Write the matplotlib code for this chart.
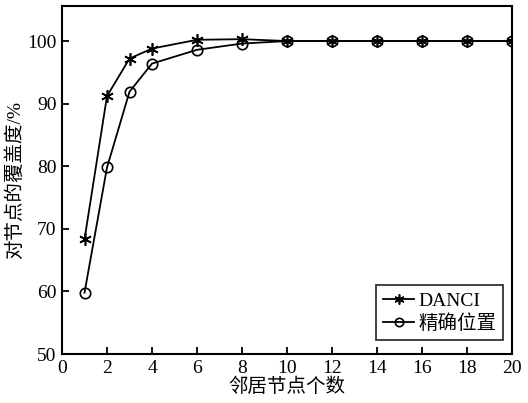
import matplotlib
matplotlib.use("Agg")
import matplotlib.pyplot as plt

plt.rcParams['font.family'] = ['Liberation Serif', 'Noto Sans CJK SC']

x = [1, 2, 3, 4, 6, 8, 10, 12, 14, 16, 18, 20]
danci = [68.3, 91.2, 97.2, 98.8, 100.2, 100.3, 100, 100, 100, 100, 100, 100]
exact = [59.8, 79.8, 91.9, 96.4, 98.6, 99.6, 100, 100, 100, 100, 100, 100]
xticks = [0, 2, 4, 6, 8, 10, 12, 14, 16, 18, 20]
yticks = [50, 60, 70, 80, 90, 100]

fig = plt.figure(figsize=(5.28, 4.03), dpi=100)
ax = fig.add_axes([62/528, 1-354/403, 450/528, 348/403])
ax.plot(x, danci, color='black', lw=1.3, marker=(6, 2, 0), ms=9, mew=1.2, label='DANCI')
ax.plot(x, exact, color='black', lw=1.3, marker='o', ms=7.5, mfc='none', mew=1.2, label='精确位置')
ax.set_xlim(0, 20)
ax.set_ylim(50, 105.6)
ax.set_xticks(xticks)
ax.set_yticks(yticks)
ax.tick_params(direction='in', length=5, width=1.3, labelsize=14, colors='black', pad=4)
for s in ax.spines.values():
    s.set_linewidth(1.5)
ax.set_xlabel('邻居节点个数', fontsize=14, labelpad=1)
ax.set_ylabel('对节点的覆盖度/%', fontsize=14, labelpad=2)
leg = ax.legend(loc='lower right', fontsize=14, frameon=True, fancybox=False,
                edgecolor='black', handlelength=1.6, handletextpad=0.2,
                borderpad=0.35, labelspacing=0.25, markerscale=0.8,
                borderaxespad=0, bbox_to_anchor=(0.98, 0.04))
leg.get_frame().set_linewidth(1.3)
fig.savefig('out.png', dpi=100)
